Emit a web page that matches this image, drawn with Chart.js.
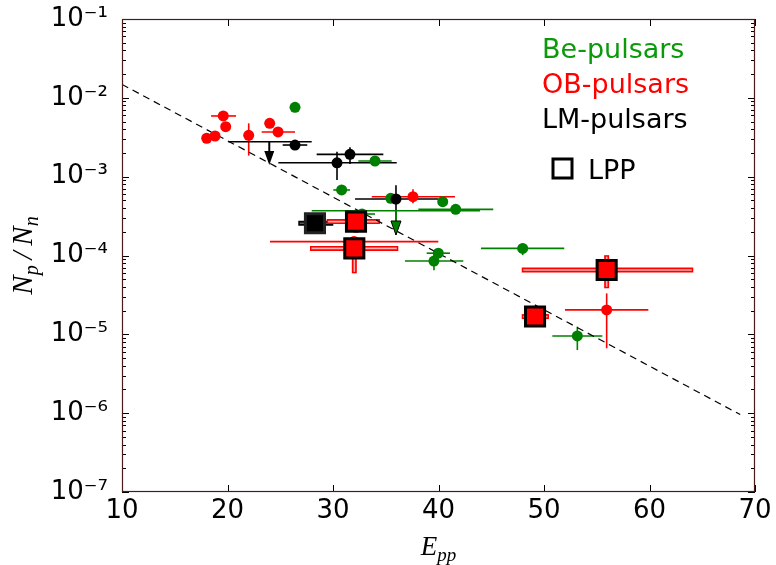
<!DOCTYPE html>
<html>
<head>
<meta charset="utf-8">
<script src="https://cdn.jsdelivr.net/npm/chart.js@4.4.1/dist/chart.umd.min.js"></script>
<style>
  html, body { margin: 0; padding: 0; background: #ffffff; }
  canvas { display: block; }
</style>
</head>
<body>
<canvas id="chart" width="776" height="565"></canvas>
<script>
// ---- Be-pulsars (green) ----
const beE     = [26.40, 33.98, 30.82, 35.47, 40.40, 41.63, 47.98, 39.98, 39.57, 53.16, 32.75];
const beRatio = [7.59e-3, 1.58e-3, 6.78e-4, 5.32e-4, 4.81e-4, 3.85e-4, 1.23e-4, 1.07e-4, 8.51e-5, 9.53e-6, 3.36e-4];
const beELo   = [null, 32.40, 30.03, null, null, 38.09, 44.03, 38.88, 36.82, 50.79, 31.61];
const beEHi   = [null, 35.56, 31.61, null, null, 45.19, 51.92, 41.09, 42.35, 55.53, 33.98];
const beRLo   = [null, null, null, null, null, null, 1.01e-4, null, 6.5e-5, 6.32e-6, null];
const beRHi   = [null, null, null, null, null, null, 1.43e-4, null, 1.07e-4, 1.25e-5, null];
// Be-pulsar upper limit
const beLimE     = [35.97];
const beLimRatio = [3.70e-4];
const beLimELo   = [27.98];
const beLimEHi   = [43.93];
const beLimTo    = [1.82e-4];

// ---- OB-pulsars (red) ----
const obE     = [18.03, 18.82, 19.60, 19.83, 22.01, 24.00, 24.79, 37.58, 31.99, 55.94];
const obRatio = [3.07e-3, 3.28e-3, 5.89e-3, 4.30e-3, 3.35e-3, 4.75e-3, 3.69e-3, 5.57e-4, 1.50e-4, 2.04e-5];
const obELo   = [null, null, 18.44, null, null, null, 23.24, 33.67, 24.03, 51.99];
const obEHi   = [null, null, 20.81, null, null, null, 26.40, 41.56, 39.98, 59.89];
const obRLo   = [null, null, null, null, 1.85e-3, null, null, 4.6e-4, null, 6.65e-6];
const obRHi   = [null, null, null, null, 4.75e-3, null, null, 6.9e-4, null, 3.31e-5];

// ---- LM-pulsars (black) ----
const lmE     = [26.40, 31.61, 30.38, 35.97];
const lmRatio = [2.52e-3, 1.92e-3, 1.50e-3, 5.21e-4];
const lmELo   = [25.23, 28.45, 24.82, 32.09];
const lmEHi   = [27.56, 34.77, 36.04, 39.98];
const lmRLo   = [null, 1.45e-3, 9.1e-4, 1.85e-4];
const lmRHi   = [null, 2.36e-3, 2.07e-3, 7.8e-4];
// LM-pulsar upper limit
const lmLimE     = [23.96];
const lmLimRatio = [2.77e-3];
const lmLimELo   = [20.08];
const lmLimEHi   = [27.98];
const lmLimTo    = [1.41e-3];

// ---- LPP (squares) ----
const lppObE     = [32.18, 32.02, 55.94, 49.15];
const lppObRatio = [2.69e-4, 1.23e-4, 6.54e-5, 1.68e-5];
const lppObELo   = [29.40, 27.82, 47.89, 47.89];
const lppObEHi   = [34.45, 36.19, 64.15, 50.47];
const lppObRLo   = [1.95e-4, 5.94e-5, 3.84e-5, null];
const lppObRHi   = [3.2e-4, 1.7e-4, 1.01e-4, null];
const lppLmE     = [28.29];
const lppLmRatio = [2.56e-4];
const lppLmELo   = [26.71];
const lppLmEHi   = [30.03];

// ---- trend line ----
const fitE     = [10, 68.6];
const fitRatio = [1.48e-2, 9.6e-7];

// ---- axes ----
const xTickValues = [10, 20, 30, 40, 50, 60, 70];
const yDecades    = [-7, -6, -5, -4, -3, -2, -1];
const legendNames = ['Be-pulsars', 'OB-pulsars', 'LM-pulsars', 'LPP'];

const GREEN = '#008000';
const RED = '#ff0000';
const BLACK = '#000000';
const FRAME = '#4d1a1a';

const pts = (xs, ys) => xs.map((v, i) => ({ x: v, y: ys[i] }));

const SUP = { '-': '\u207B', '0': '\u2070', '1': '\u00B9', '2': '\u00B2', '3': '\u00B3',
              '4': '\u2074', '5': '\u2075', '6': '\u2076', '7': '\u2077', '8': '\u2078', '9': '\u2079' };
const supText = s => String(s).split('').map(c => SUP[c] || c).join('');

// error bars and upper-limit arrows, drawn beneath the markers
const errorBars = {
  id: 'errorBars',
  beforeDatasetsDraw(chart) {
    const { ctx, chartArea: a, scales: { x, y } } = chart;
    ctx.save();
    ctx.beginPath();
    ctx.rect(a.left, a.top, a.right - a.left, a.bottom - a.top);
    ctx.clip();

    const line = (x1, y1, x2, y2) => { ctx.beginPath(); ctx.moveTo(x1, y1); ctx.lineTo(x2, y2); ctx.stroke(); };

    const thinBars = (E, R, eLo, eHi, rLo, rHi, color) => {
      ctx.strokeStyle = color;
      ctx.lineWidth = 1.6;
      E.forEach((e, i) => {
        const px = x.getPixelForValue(e), py = y.getPixelForValue(R[i]);
        if (eLo[i] != null) line(x.getPixelForValue(eLo[i]), py, x.getPixelForValue(eHi[i]), py);
        if (rLo && rLo[i] != null) line(px, y.getPixelForValue(rLo[i]), px, y.getPixelForValue(rHi[i]));
      });
    };

    const hollowBar = (x1, y1, x2, y2, outer, inner) => {
      ctx.lineCap = 'butt';
      ctx.strokeStyle = outer; ctx.lineWidth = 5;
      line(x1, y1, x2, y2);
      const h = x1 === x2;
      ctx.strokeStyle = inner; ctx.lineWidth = 1.6;
      if (h) line(x1, Math.min(y1, y2) + 1.5, x2, Math.max(y1, y2) - 1.5);
      else line(Math.min(x1, x2) + 1.5, y1, Math.max(x1, x2) - 1.5, y2);
    };

    const lppBars = (E, R, eLo, eHi, rLo, rHi, outer, inner) => {
      E.forEach((e, i) => {
        const px = x.getPixelForValue(e), py = y.getPixelForValue(R[i]);
        if (rLo && rLo[i] != null)
          hollowBar(px, y.getPixelForValue(rHi[i]), px, y.getPixelForValue(rLo[i]), outer, inner);
        if (eLo[i] != null)
          hollowBar(x.getPixelForValue(eLo[i]), py, x.getPixelForValue(eHi[i]), py, outer, inner);
      });
    };

    const limits = (E, R, eLo, eHi, to, color, headFill, headEdge) => {
      E.forEach((e, i) => {
        const px = x.getPixelForValue(e), py = y.getPixelForValue(R[i]);
        const tip = y.getPixelForValue(to[i]);
        ctx.strokeStyle = color; ctx.lineWidth = 1.6;
        line(x.getPixelForValue(eLo[i]), py, x.getPixelForValue(eHi[i]), py);
        ctx.lineWidth = 2;
        line(px, py, px, tip - 8);
        ctx.beginPath();
        ctx.moveTo(px, tip);
        ctx.lineTo(px - 5, tip - 14);
        ctx.lineTo(px + 5, tip - 14);
        ctx.closePath();
        ctx.fillStyle = headFill; ctx.fill();
        if (headEdge) { ctx.strokeStyle = headEdge; ctx.lineWidth = 1; ctx.stroke(); }
      });
    };

    thinBars(obE, obRatio, obELo, obEHi, obRLo, obRHi, RED);
    thinBars(beE, beRatio, beELo, beEHi, beRLo, beRHi, GREEN);
    limits(lmLimE, lmLimRatio, lmLimELo, lmLimEHi, lmLimTo, BLACK, BLACK, null);
    thinBars(lmE, lmRatio, lmELo, lmEHi, lmRLo, lmRHi, BLACK);
    limits(beLimE, beLimRatio, beLimELo, beLimEHi, beLimTo, GREEN, GREEN, BLACK);
    lppBars(lppLmE, lppLmRatio, lppLmELo, lppLmEHi, null, null, BLACK, '#555555');
    lppBars(lppObE, lppObRatio, lppObELo, lppObEHi, lppObRLo, lppObRHi, RED, '#ffb0b0');
    ctx.restore();
  }
};

// frame, inward tick marks, axis titles and legend
const decorations = {
  id: 'decorations',
  afterDraw(chart) {
    const { ctx, chartArea: a, scales: { x, y } } = chart;
    ctx.save();

    // inward ticks on all four sides
    ctx.strokeStyle = '#000000';
    ctx.lineWidth = 1;
    const tick = (x1, y1, x2, y2) => { ctx.beginPath(); ctx.moveTo(x1, y1); ctx.lineTo(x2, y2); ctx.stroke(); };
    xTickValues.forEach(v => {
      const px = Math.round(x.getPixelForValue(v)) + 0.5;
      tick(px, a.bottom, px, a.bottom - 7);
      tick(px, a.top, px, a.top + 7);
    });
    yDecades.forEach((d, i) => {
      const py = Math.round(y.getPixelForValue(Math.pow(10, d))) + 0.5;
      tick(a.left, py, a.left + 7, py);
      tick(a.right, py, a.right - 7, py);
      if (i < yDecades.length - 1) {
        for (let k = 2; k <= 9; k++) {
          const my = Math.round(y.getPixelForValue(k * Math.pow(10, d))) + 0.5;
          tick(a.left, my, a.left + 4, my);
          tick(a.right, my, a.right - 4, my);
        }
      }
    });

    // frame
    ctx.strokeStyle = FRAME;
    ctx.lineWidth = 1.2;
    ctx.strokeRect(a.left + 0.5, a.top + 0.5, a.right - a.left - 1, a.bottom - a.top - 1);

    // axis titles with subscripts
    const drawMath = (parts, cx, cy, size) => {
      const mainFont = 'italic ' + size + 'px "Liberation Serif"';
      const subFont = 'italic ' + Math.round(size * 0.7) + 'px "Liberation Serif"';
      let w = 0;
      parts.forEach(p => { ctx.font = p[1] ? subFont : mainFont; w += ctx.measureText(p[0]).width; });
      let px = cx - w / 2;
      ctx.fillStyle = '#000000';
      ctx.textBaseline = 'alphabetic';
      ctx.textAlign = 'left';
      parts.forEach(p => {
        ctx.font = p[1] ? subFont : mainFont;
        ctx.fillText(p[0], px, cy + (p[1] ? size * 0.22 : 0));
        px += ctx.measureText(p[0]).width;
      });
    };
    drawMath([['E', 0], ['pp', 1]], (a.left + a.right) / 2, 555, 27);
    ctx.save();
    ctx.translate(32, (a.top + a.bottom) / 2);
    ctx.rotate(-Math.PI / 2);
    drawMath([['N', 0], ['p', 1], ['\u2009/\u2009', 0], ['N', 0], ['n', 1]], 0, 0, 29);
    ctx.restore();

    // legend
    ctx.font = '27px "DejaVu Sans"';
    ctx.textAlign = 'left';
    ctx.textBaseline = 'alphabetic';
    const lx = a.right - 213;
    const colors = ['#0a9a0a', RED, BLACK];
    [0, 1, 2].forEach(i => {
      ctx.fillStyle = colors[i];
      ctx.fillText(legendNames[i], lx, a.top + 39 + i * 35);
    });
    ctx.strokeStyle = BLACK;
    ctx.lineWidth = 3;
    ctx.strokeRect(lx + 11, a.top + 140, 19, 19);
    ctx.fillStyle = BLACK;
    ctx.fillText(legendNames[3], lx + 46, a.top + 160);

    ctx.restore();
  }
};

new Chart(document.getElementById('chart'), {
  type: 'scatter',
  data: {
    datasets: [
      { label: 'LPP OB', data: pts(lppObE, lppObRatio), pointStyle: 'rect', pointRadius: 13.5,
        backgroundColor: RED, borderColor: BLACK, borderWidth: 3, order: 0 },
      { label: 'LPP LM', data: pts(lppLmE, lppLmRatio), pointStyle: 'rect', pointRadius: 13.5,
        backgroundColor: BLACK, borderColor: '#222222', borderWidth: 3, order: 1 },
      { label: 'LM-pulsars', data: pts(lmE, lmRatio), pointRadius: 5.5,
        backgroundColor: BLACK, borderWidth: 0, order: 2 },
      { label: 'OB-pulsars', data: pts(obE, obRatio), pointRadius: 5.5,
        backgroundColor: RED, borderWidth: 0, order: 3 },
      { label: 'Be-pulsars', data: pts(beE, beRatio), pointRadius: 5.5,
        backgroundColor: GREEN, borderWidth: 0, order: 4 },
      { type: 'line', label: 'trend', data: pts(fitE, fitRatio), borderColor: BLACK, borderWidth: 1.2,
        borderDash: [7, 5], pointRadius: 0, fill: false, tension: 0, order: 5 }
    ]
  },
  options: {
    responsive: false,
    devicePixelRatio: 1,
    animation: false,
    events: [],
    layout: { padding: { left: 0, right: 21, top: 19, bottom: 0 } },
    plugins: { legend: { display: false }, tooltip: { enabled: false } },
    scales: {
      x: {
        type: 'linear', min: 10, max: 70,
        grid: { display: false, drawTicks: false },
        border: { display: false },
        afterBuildTicks: s => { s.ticks = xTickValues.map(v => ({ value: v })); },
        afterFit: s => { s.height = 73; s.paddingLeft = 0; s.paddingRight = 0; },
        ticks: { padding: 4, color: '#000000', font: { family: 'DejaVu Sans', size: 26 }, maxRotation: 0,
                 callback: v => String(v) }
      },
      y: {
        type: 'logarithmic', min: 1e-7, max: 1e-1,
        grid: { display: false, drawTicks: false },
        border: { display: false },
        afterBuildTicks: s => { s.ticks = yDecades.map(d => ({ value: Math.pow(10, d) })); },
        afterFit: s => { s.width = 122; s.paddingTop = 0; s.paddingBottom = 0; },
        ticks: { padding: 14, color: '#000000', font: { family: 'DejaVu Sans', size: 26 },
                 callback: v => '10' + supText(Math.round(Math.log10(v))) }
      }
    }
  },
  plugins: [errorBars, decorations]
});
</script>
</body>
</html>
